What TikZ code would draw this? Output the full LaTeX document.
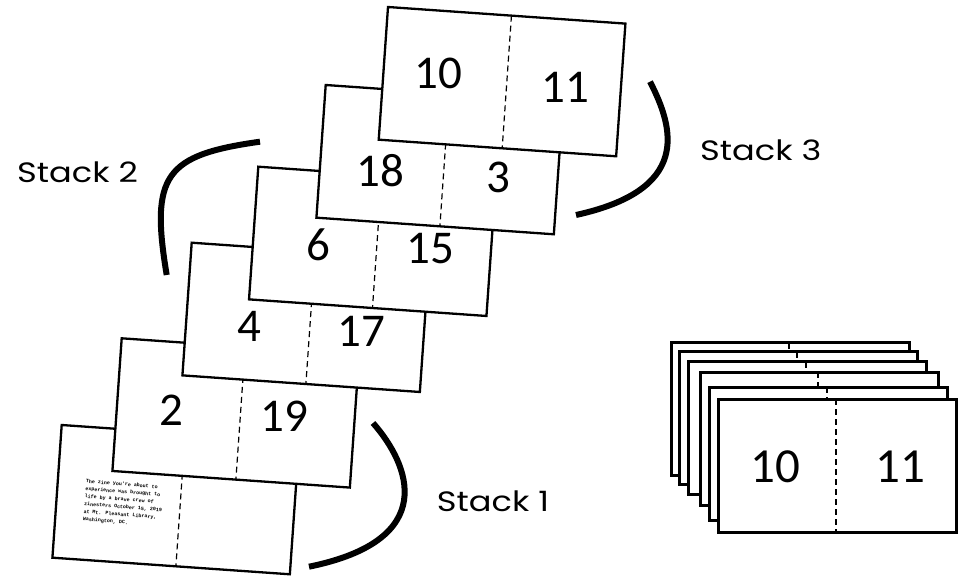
\documentclass[tikz,border=0pt]{standalone}
\usepackage{fontspec}
\setmainfont{Carlito}
\newfontfamily\handfont{Poppins}
\newfontfamily\zinemono{Liberation Mono}
\usetikzlibrary{calc}
\begin{document}
\begin{tikzpicture}[x=1pt,y=1pt,
  sheet/.style={draw, fill=white, line width=2.3pt, minimum width=238pt, minimum height=133pt, inner sep=0pt, outer sep=0pt, rotate=-4, anchor=north west},
  card/.style={draw, fill=white, line width=3pt, minimum width=238pt, minimum height=133pt, inner sep=0pt, outer sep=0pt, anchor=north west},
  fold/.style={line width=1.2pt, dash pattern=on 6pt off 4pt},
  cardfold/.style={line width=2pt, dash pattern=on 6pt off 4pt},
  num/.style={font=\fontsize{47}{47}\selectfont, inner sep=0pt},
  bracket/.style={line width=6pt},
  lbl/.style={font=\handfont\fontsize{28}{28}\selectfont, inner sep=0pt, anchor=west, xscale=1.2}
]
\useasboundingbox (0,0) rectangle (964,-577);

% sheet 6 (bottom)
\node[sheet] (s6) at (61.7,-425) {};
\draw[fold] ($(s6.north west)!0.52!(s6.north east)$) -- ($(s6.south west)!0.52!(s6.south east)$);
\node[anchor=north west, rotate=-4.5, inner sep=0pt, align=left,
      font=\zinemono\bfseries\fontsize{5}{7.6}\selectfont] (zine) at (86,-479)
  {The zine you're about to\\experience was brought to\\life by a brave crew of\\zinesters October 15, 2019\\at Mt. Pleasant Library,\\Washington, DC.};

% sheet 5
\node[sheet] (s5) at (121.7,-338.3) {};
\draw[fold] ($(s5.north west)!0.52!(s5.north east)$) -- ($(s5.south west)!0.52!(s5.south east)$);
\node[num] (n2) at (171.7,-410) {2};
\node[num] (n19) at (284,-416.7) {19};

% sheet 4
\node[sheet] (s4) at (191.7,-242.7) {};
\draw[fold] ($(s4.north west)!0.52!(s4.north east)$) -- ($(s4.south west)!0.52!(s4.south east)$);
\node[num] (n4) at (249,-326.7) {4};
\node[num] (n17) at (361.7,-331.7) {17};

% sheet 3
\node[sheet] (s3) at (258.3,-166.7) {};
\draw[fold] ($(s3.north west)!0.52!(s3.north east)$) -- ($(s3.south west)!0.52!(s3.south east)$);
\node[num] (n6) at (318.3,-245) {6};
\node[num] (n15) at (430,-249) {15};

% sheet 2
\node[sheet] (s2) at (325.7,-85) {};
\draw[fold] ($(s2.north west)!0.52!(s2.north east)$) -- ($(s2.south west)!0.52!(s2.south east)$);
\node[num] (n18) at (380.5,-170.5) {18};
\node[num] (n3) at (498,-177) {3};

% sheet 1 (top)
\node[sheet] (s1) at (388,-7) {};
\draw[fold] ($(s1.north west)!0.52!(s1.north east)$) -- ($(s1.south west)!0.52!(s1.south east)$);
\node[num] (n10) at (438,-73) {10};
\node[num] (n11) at (565,-87) {11};

% brackets
\draw[bracket] (260,-141.7) .. controls (165,-155) and (150,-175) .. (166.7,-275);
\draw[bracket] (650,-81.7) .. controls (675,-130) and (690,-190) .. (576,-215);
\draw[bracket] (373,-423) .. controls (410,-465) and (440,-540) .. (309,-566.7);

% labels
\node[lbl] (l2) at (17,-172) {Stack 2};
\node[lbl] (l3) at (700,-150) {Stack 3};
\node[lbl] (l1) at (436.7,-501.7) {Stack 1};

% right stack
\foreach \i/\x/\y in {1/671/342.7, 2/679/351.7, 3/688.3/361.7, 4/700.7/372.3, 5/709/387.3, 6/718.3/399}{
  \node[card] (r\i) at (\x,-\y) {};
  \draw[cardfold] ($(r\i.north west)!0.494!(r\i.north east)$) -- ($(r\i.south west)!0.494!(r\i.south east)$);
}
\node[num, font=\fontsize{49}{49}\selectfont] (c10) at (775,-466.7) {10};
\node[num, font=\fontsize{49}{49}\selectfont] (c11) at (900,-466.7) {11};
\end{tikzpicture}
\end{document}
